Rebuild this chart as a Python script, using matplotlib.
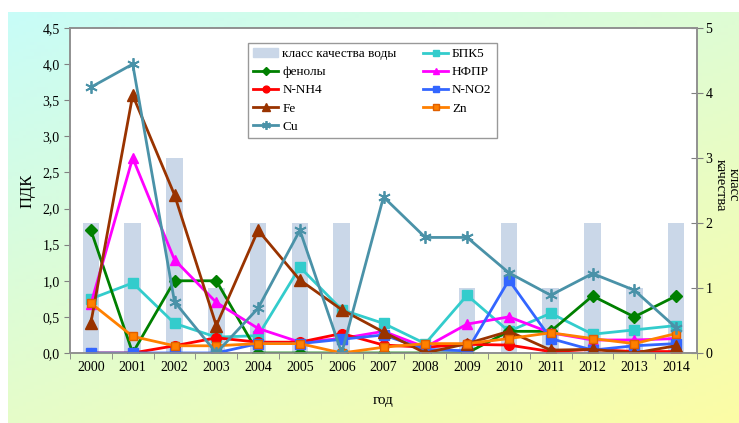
import numpy as np
import matplotlib.pyplot as plt
from matplotlib.patches import Patch
from matplotlib.ticker import FuncFormatter, MultipleLocator

plt.rcParams['font.family'] = ['Liberation Serif', 'DejaVu Serif']

# data
years = [str(y) for y in range(2000, 2015)]
water_class = [2, 2, 3, 1, 2, 2, 2, 0, 0, 1, 2, 1, 2, 1, 2]
bpk5   = [0.75, 0.97, 0.41, 0.22, 0.24, 1.19, 0.60, 0.41, 0.13, 0.80, 0.30, 0.55, 0.26, 0.32, 0.38]
phenol = [1.70, 0.00, 1.00, 1.00, 0.00, 0.00, 0.00, 0.00, 0.00, 0.00, 0.30, 0.30, 0.79, 0.50, 0.79]
nfpr   = [0.68, 2.70, 1.29, 0.70, 0.34, 0.15, 0.20, 0.30, 0.08, 0.40, 0.50, 0.28, 0.18, 0.18, 0.20]
n_nh4  = [0.00, 0.00, 0.10, 0.21, 0.15, 0.15, 0.27, 0.11, 0.08, 0.12, 0.11, 0.02, 0.05, 0.02, 0.02]
n_no2  = [0.00, 0.00, 0.00, 0.00, 0.13, 0.13, 0.19, 0.25, 0.05, 0.03, 1.01, 0.20, 0.04, 0.10, 0.13]
fe     = [0.42, 3.57, 2.19, 0.38, 1.70, 1.01, 0.60, 0.29, 0.00, 0.13, 0.30, 0.04, 0.05, 0.00, 0.10]
zn     = [0.69, 0.23, 0.10, 0.10, 0.13, 0.13, 0.00, 0.08, 0.13, 0.13, 0.20, 0.28, 0.20, 0.13, 0.27]
cu     = [3.68, 4.00, 0.71, 0.00, 0.62, 1.70, 0.00, 2.16, 1.60, 1.60, 1.11, 0.80, 1.10, 0.87, 0.35]

x = np.arange(len(years))

fig = plt.figure(figsize=(7.39, 4.23), dpi=100)

# gradient background panel
bg = fig.add_axes([8/739, 0, 1 - 8/739, 1 - 12/423], zorder=-10)
gx, gy = np.meshgrid(np.linspace(0, 1, 200), np.linspace(0, 1, 120))
t = np.clip((gx * 0.6 + gy * 0.8) / 1.4, 0, 1)
c0 = np.array([200, 252, 248]) / 255
c1 = np.array([252, 252, 165]) / 255
img = c0[None, None, :] * (1 - t[..., None]) + c1[None, None, :] * t[..., None]
bg.imshow(img, aspect='auto', extent=[0, 1, 0, 1], origin='upper')
bg.axis('off')

ax = fig.add_axes([70/739, 1 - 353/423, 627/739, 325/423])
ax2 = ax.twinx()

# bars on the right axis, behind the lines
ax2.bar(x, water_class, width=0.4, color='#cad7e8', zorder=1)
ax2.set_ylim(0, 5)
ax.set_zorder(ax2.get_zorder() + 1)
ax.patch.set_visible(False)
ax2.patch.set_visible(True)
ax2.patch.set_facecolor('white')

lw = 2
ax.plot(x, bpk5, color='#33cccc', marker='s', ms=7, lw=lw, label='БПК5')
ax.plot(x, phenol, color='#008000', marker='D', ms=6, lw=lw, label='фенолы')
ax.plot(x, nfpr, color='#ff00ff', marker='^', ms=7, lw=lw, label='НФПР')
ax.plot(x, n_nh4, color='#ff0000', marker='o', ms=7, lw=lw, label='N-NH4')
ax.plot(x, n_no2, color='#3366ff', marker='s', ms=7, lw=lw, label='N-NO2')
ax.plot(x, fe, color='#993300', marker='^', ms=8, lw=lw, label='Fe')
ax.plot(x, zn, color='#ff8000', marker='s', ms=6, mec='#e06000', lw=lw, label='Zn')
ax.plot(x, cu, color='#4a92a8', marker=(6, 2, 0), ms=9, mew=1.3, lw=lw, label='Cu')

ax.set_xlim(-0.48, 14.48)
ax.set_ylim(0, 4.5)
ax.yaxis.set_major_locator(MultipleLocator(0.5))
ax.yaxis.set_major_formatter(FuncFormatter(lambda v, p: f'{v:.1f}'.replace('.', ',')))
ax.set_xticks(x)
ax.set_xticklabels(years)
ax.set_xticks(np.arange(-0.5, 15, 1), minor=True)
ax.tick_params(axis='x', which='major', length=0, labelsize=10, pad=6)
ax.tick_params(axis='x', which='minor', length=4, color='#808080')
ax.tick_params(axis='y', length=4, color='#808080', labelsize=10)
ax2.set_yticks(range(6))
ax2.tick_params(axis='y', direction='inout', length=8, color='#808080', labelsize=10, pad=2)

for a in (ax, ax2):
    for s in a.spines.values():
        s.set_color('#909090')
        s.set_linewidth(1.2)

ax.set_ylabel('ПДК', fontsize=12, labelpad=5)
ax.set_xlabel('год', fontsize=11, labelpad=14)
fig.text(727/739, 1 - 185/423, 'класс\nкачества', rotation=-90, fontsize=10.5,
         ha='center', va='center', linespacing=0.95)

handles = [Patch(color='#cad7e8', label='класс качества воды')]
lines = {l.get_label(): l for l in ax.get_lines()}
order = ['фенолы', 'N-NH4', 'Fe', 'Cu', 'БПК5', 'НФПР', 'N-NO2', 'Zn']
handles += [lines[k] for k in order]
leg = ax.legend(handles=handles, ncol=2, loc='upper left',
                bbox_to_anchor=(0.284, 0.955), fontsize=9.5, frameon=True,
                fancybox=False, edgecolor='#808080', borderaxespad=0,
                handlelength=1.9, handletextpad=0.3, columnspacing=2.0,
                labelspacing=0.45, markerscale=0.7)
leg.get_frame().set_linewidth(1)

fig.savefig('out.png', dpi=100)
